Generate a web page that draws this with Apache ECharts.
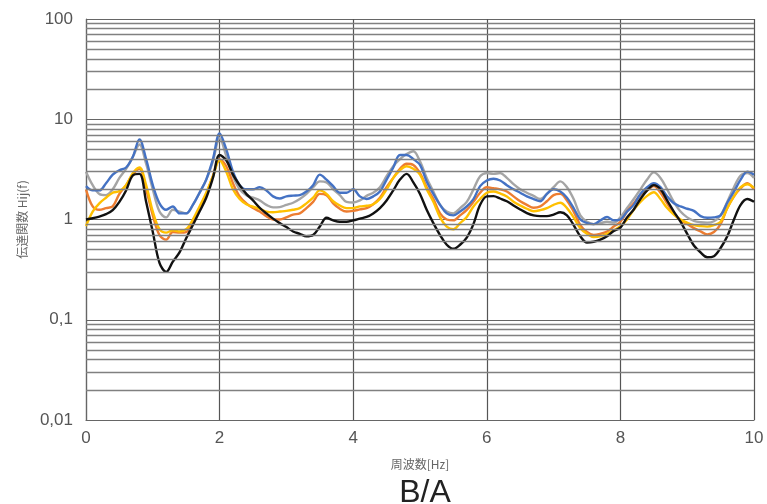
<!DOCTYPE html>
<html>
<head>
<meta charset="utf-8">
<script src="https://cdn.jsdelivr.net/npm/echarts@6/dist/echarts.min.js"></script>
<style>html,body{margin:0;padding:0;background:#fff}#c{width:767px;height:504px}</style>
</head>
<body>
<div id="c"></div>
<script>
var freq = [0.0,0.1,0.2,0.3,0.4,0.5,0.6,0.7,0.8,0.9,1.0,1.1,1.2,1.3,1.4,1.5,1.6,1.7,1.8,1.9,2.0,2.1,2.2,2.3,2.4,2.5,2.6,2.7,2.8,2.9,3.0,3.1,3.2,3.3,3.4,3.5,3.6,3.7,3.8,3.9,4.0,4.1,4.2,4.3,4.4,4.5,4.6,4.7,4.8,4.9,5.0,5.1,5.2,5.3,5.4,5.5,5.6,5.7,5.8,5.9,6.0,6.1,6.2,6.3,6.4,6.5,6.6,6.7,6.8,6.9,7.0,7.1,7.2,7.3,7.4,7.5,7.6,7.7,7.8,7.9,8.0,8.1,8.2,8.3,8.4,8.5,8.6,8.7,8.8,8.9,9.0,9.1,9.2,9.3,9.4,9.5,9.6,9.7,9.8,9.9,10.0];

var blackVals = [1.0,1.03,1.07,1.13,1.24,1.5,1.95,2.75,2.85,1.5,0.75,0.37,0.3,0.38,0.47,0.65,0.88,1.2,1.65,2.6,4.4,3.9,2.8,2.2,1.8,1.55,1.31,1.15,1.02,0.92,0.84,0.76,0.72,0.68,0.7,0.85,1.04,0.98,0.95,0.95,0.98,1.02,1.06,1.15,1.3,1.55,1.95,2.5,2.85,2.35,1.8,1.25,0.92,0.7,0.56,0.51,0.56,0.66,0.9,1.4,1.7,1.71,1.62,1.52,1.38,1.26,1.16,1.1,1.08,1.08,1.12,1.18,1.1,0.88,0.68,0.59,0.6,0.63,0.68,0.77,0.83,1.05,1.26,1.6,1.95,2.2,2.0,1.55,1.2,0.95,0.72,0.55,0.47,0.42,0.43,0.52,0.68,1.0,1.4,1.6,1.5];

var grayVals = [3.0,2.2,1.8,1.75,2.0,2.6,3.2,4.2,5.6,3.6,2.0,1.2,1.05,1.25,1.2,1.15,1.4,1.85,2.5,3.8,6.5,4.3,2.7,2.0,1.75,1.65,1.55,1.4,1.32,1.33,1.4,1.47,1.6,1.8,2.1,2.4,2.35,2.0,1.75,1.5,1.48,1.55,1.72,1.85,2.1,2.7,3.4,4.0,4.5,4.8,3.8,2.6,1.9,1.4,1.2,1.15,1.3,1.5,2.0,2.7,2.9,2.85,2.9,2.6,2.25,2.0,1.85,1.72,1.6,1.8,2.1,2.4,2.1,1.6,1.1,0.95,0.9,0.92,0.95,0.93,1.05,1.3,1.6,2.0,2.5,2.95,2.6,2.0,1.5,1.2,1.05,0.97,0.94,0.93,0.96,1.1,1.5,2.1,2.75,2.9,2.6];

var orangeVals = [2.0,1.35,1.25,1.3,1.35,1.8,2.2,2.8,3.2,2.0,1.1,0.7,0.63,0.75,0.74,0.75,0.95,1.3,1.8,2.7,4.0,3.4,2.3,1.7,1.45,1.3,1.2,1.08,1.0,1.0,1.05,1.12,1.15,1.3,1.5,1.8,1.75,1.45,1.28,1.2,1.22,1.26,1.3,1.42,1.65,2.1,2.6,3.2,3.6,3.5,2.9,2.1,1.6,1.15,1.0,0.98,1.1,1.25,1.5,1.85,2.1,2.05,2.0,1.9,1.7,1.52,1.4,1.31,1.35,1.52,1.75,1.8,1.55,1.2,0.88,0.75,0.7,0.72,0.76,0.85,0.95,1.2,1.45,1.75,1.95,2.15,1.85,1.45,1.15,0.98,0.9,0.82,0.76,0.71,0.75,0.9,1.3,1.7,2.05,2.3,2.0];

var yellowVals = [0.86,1.2,1.45,1.65,1.85,1.92,2.2,2.9,3.3,2.2,1.2,0.8,0.74,0.78,0.76,0.8,1.0,1.35,1.85,2.7,3.9,3.0,2.0,1.6,1.42,1.34,1.28,1.2,1.18,1.2,1.22,1.25,1.3,1.45,1.65,1.95,1.8,1.52,1.38,1.3,1.3,1.35,1.37,1.42,1.6,2.0,2.6,3.1,3.4,3.2,2.8,2.0,1.5,1.05,0.85,0.8,0.92,1.06,1.35,1.6,1.85,1.9,1.82,1.7,1.5,1.38,1.28,1.21,1.24,1.3,1.4,1.47,1.3,1.05,0.82,0.72,0.67,0.68,0.72,0.78,0.86,1.0,1.25,1.5,1.72,1.87,1.6,1.3,1.12,1.0,0.93,0.88,0.86,0.85,0.88,0.95,1.3,1.7,2.1,2.25,2.07];

var blueVals = [2.15,1.95,1.95,2.3,2.8,3.1,3.3,4.2,6.3,4.0,2.2,1.45,1.25,1.35,1.15,1.15,1.4,1.85,2.5,4.0,7.2,5.0,3.0,2.2,2.0,2.0,2.1,1.95,1.7,1.62,1.7,1.73,1.75,1.9,2.2,2.8,2.5,2.15,1.85,1.85,2.0,1.7,1.6,1.7,1.9,2.5,3.3,4.4,4.4,4.0,3.5,2.4,1.8,1.4,1.15,1.1,1.2,1.35,1.6,2.15,2.45,2.55,2.45,2.2,2.0,1.85,1.7,1.6,1.52,1.8,2.0,1.9,1.65,1.3,1.0,0.92,0.9,0.98,1.06,0.98,1.0,1.2,1.4,1.8,2.1,2.3,2.1,1.7,1.45,1.35,1.28,1.22,1.08,1.04,1.05,1.1,1.47,1.9,2.5,3.0,2.8];

var xTicks = [0,2,4,6,8,10];
var yTicks = [0.01,0.1,1,10,100];
var minorGrid = [0.02,0.03,0.04,0.05,0.06,0.07,0.08,0.09,0.2,0.3,0.4,0.5,0.6,0.7,0.8,0.9,2,3,4,5,6,7,8,9,20,30,40,50,60,70,80,90];

function pairs(vals){ return freq.map(function(f,i){ return [f, vals[i]]; }); }

var chart = echarts.init(document.getElementById('c'), null, {renderer:'canvas'});
function mkSeries(name, vals, color){
  return {
    name: name, type: 'line', data: pairs(vals), showSymbol: false, symbol: 'none',
    smooth: 0.35, lineStyle: {color: color, width: 2.4}, itemStyle: {color: color},
    animation: false, z: 3
  };
}
var series = [
  {
    name: 'grid', type: 'line', data: [], silent: true, animation: false,
    markLine: {
      silent: true, symbol: 'none', animation: false,
      label: {show: false},
      lineStyle: {color: '#808080', width: 1.3, type: 'solid'},
      data: minorGrid.map(function(v){ return {yAxis: v}; })
    }
  },
  mkSeries('gray', grayVals, '#a5a5a5'),
  mkSeries('orange', orangeVals, '#ed7d31'),
  mkSeries('yellow', yellowVals, '#ffc000'),
  mkSeries('blue', blueVals, '#4472c4'),
  mkSeries('black', blackVals, '#111111')
];

chart.setOption({
  backgroundColor: '#ffffff',
  animation: false,
  title: {
    text: 'B/A', left: 420, top: 472, textAlign: 'center',
    textStyle: {fontFamily: 'Liberation Sans, Arial, sans-serif', fontSize: 32, fontWeight: 'normal', color: '#222'}
  },
  grid: {left: 86, right: 13, top: 19, bottom: 84, containLabel: false},
  xAxis: {
    type: 'value', min: 0, max: 10, interval: 2,
    name: '周波数[Hz]', nameLocation: 'middle', nameGap: 38,
    nameTextStyle: {fontFamily: 'Noto Sans CJK JP', fontSize: 12, color: '#666'},
    axisLine: {show: true, lineStyle: {color: '#666', width: 1.2}},
    axisTick: {show: false},
    axisLabel: {margin: 10, fontSize: 17, color: '#555', fontFamily: 'Liberation Sans, Arial, sans-serif',
      formatter: function(v){ return xTicks.indexOf(v) >= 0 ? String(v) : ''; }},
    splitLine: {show: true, lineStyle: {color: '#555', width: 1.2}}
  },
  yAxis: {
    type: 'log', logBase: 10, min: 0.01, max: 100,
    name: '伝達関数 Hij(f)', nameLocation: 'middle', nameGap: 58, nameRotate: 90,
    nameTextStyle: {fontFamily: 'Noto Sans CJK JP', fontSize: 12, color: '#666'},
    axisLine: {show: true, lineStyle: {color: '#666', width: 1.2}},
    axisTick: {show: false},
    axisLabel: {margin: 13, fontSize: 17, color: '#555', fontFamily: 'Liberation Sans, Arial, sans-serif',
      formatter: function(v){
        var s = yTicks.filter(function(t){ return Math.abs(t - v) / t < 1e-6; });
        return s.length ? String(s[0]).replace('.', ',') : '';
      }},
    splitLine: {show: true, lineStyle: {color: '#666', width: 1.2}}
  },
  series: series
});
</script>
</body>
</html>
